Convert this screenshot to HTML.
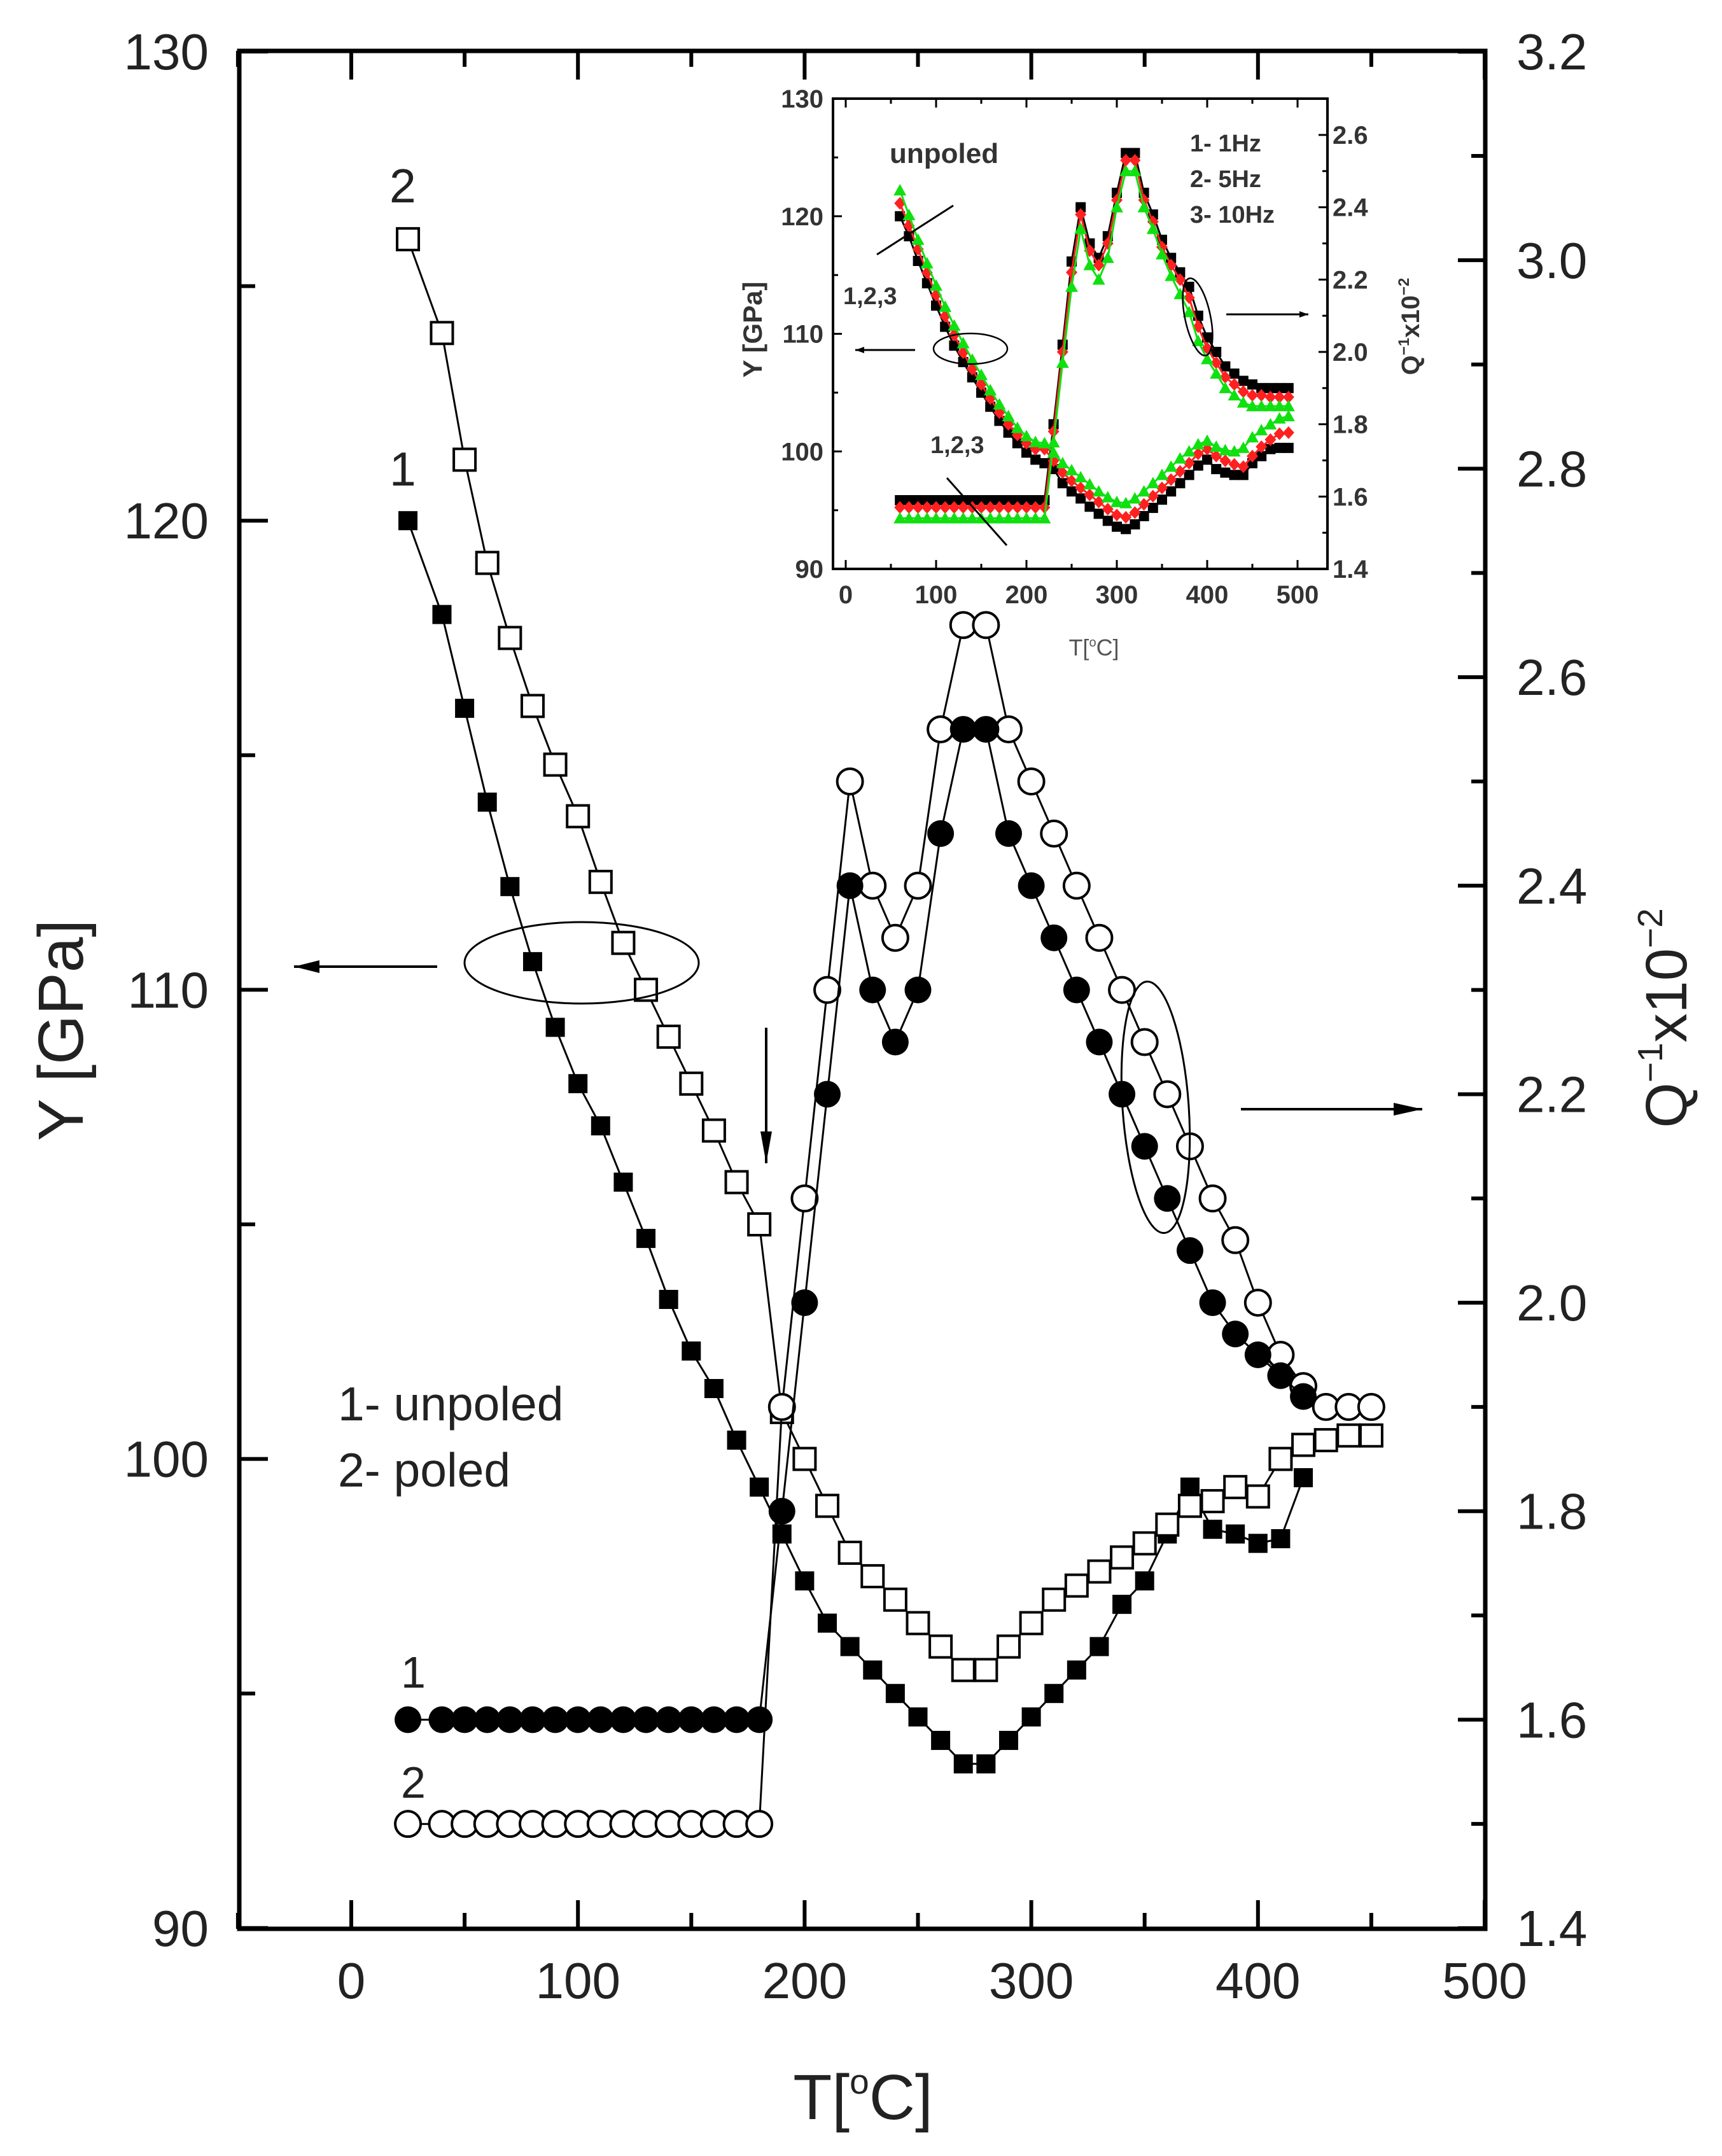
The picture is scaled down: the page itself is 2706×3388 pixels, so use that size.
<!DOCTYPE html>
<html>
<head>
<meta charset="utf-8">
<style>
html,body{margin:0;padding:0;background:#fff;}
svg{display:block;}
text{font-family:"Liberation Sans",Arial,sans-serif;}
</style>
</head>
<body>
<svg id="chart" xmlns="http://www.w3.org/2000/svg" width="2706" height="3388" viewBox="0 0 2706 3388">
<rect x="0" y="0" width="2706" height="3388" fill="#fff"/>
<g id="main"></g>
<g id="inset"></g>
</svg>
<script>
// ===== Main chart data =====
const xTickLabels = [0,100,200,300,400,500];
const yTickLabels = [90,100,110,120,130];
const qTickLabels = [1.4,1.6,1.8,2.0,2.2,2.4,2.6,2.8,3.0,3.2];

const tY1 = [25,40,50,60,70,80,90,100,110,120,130,140,150,160,170,180,190,200,210,220,230,240,250,260,270,280,290,300,310,320,330,340,350,360,370,380,390,400,410,420];
const vY1 = [120,118,116,114,112.2,110.6,109.2,108,107.1,105.9,104.7,103.4,102.3,101.5,100.4,99.4,98.4,97.4,96.5,96.0,95.5,95.0,94.5,94.0,93.5,93.5,94.0,94.5,95.0,95.5,96.0,96.9,97.4,98.4,99.4,98.5,98.4,98.2,98.3,99.6];

const tY2 = [25,40,50,60,70,80,90,100,110,120,130,140,150,160,170,180,190,200,210,220,230,240,250,260,270,280,290,300,310,320,330,340,350,360,370,380,390,400,410,420,430,440,450];
const vY2 = [126,124,121.3,119.1,117.5,116.05,114.8,113.7,112.3,111.0,110.0,109.0,108.0,107.0,105.9,105.0,101.0,100.0,99.0,98.0,97.5,97.0,96.5,96.0,95.5,95.5,96.0,96.5,97.0,97.3,97.6,97.9,98.2,98.6,99.0,99.1,99.4,99.2,100.0,100.3,100.4,100.5,100.5];

const tQ1 = [25,40,50,60,70,80,90,100,110,120,130,140,150,160,170,180,190,200,210,220,230,240,250,260,270,280,290,300,310,320,330,340,350,360,370,380,390,400,410,420];
const vQ1 = [1.6,1.6,1.6,1.6,1.6,1.6,1.6,1.6,1.6,1.6,1.6,1.6,1.6,1.6,1.6,1.6,1.80,2.0,2.2,2.4,2.3,2.25,2.3,2.45,2.55,2.55,2.45,2.4,2.35,2.3,2.25,2.2,2.15,2.1,2.05,2.0,1.97,1.95,1.93,1.91];

const tQ2 = [25,40,50,60,70,80,90,100,110,120,130,140,150,160,170,180,190,200,210,220,230,240,250,260,270,280,290,300,310,320,330,340,350,360,370,380,390,400,410,420,430,440,450];
const vQ2 = [1.5,1.5,1.5,1.5,1.5,1.5,1.5,1.5,1.5,1.5,1.5,1.5,1.5,1.5,1.5,1.5,1.90,2.1,2.3,2.5,2.4,2.35,2.4,2.55,2.65,2.65,2.55,2.5,2.45,2.4,2.35,2.3,2.25,2.2,2.15,2.1,2.06,2.0,1.95,1.92,1.9,1.9,1.9];

// ===== Inset data =====
const insetXTicks = [0,100,200,300,400,500];
const insetYTicks = [90,100,110,120,130];
const insetQTicks = [1.4,1.6,1.8,2.0,2.2,2.4,2.6];
const insT = [60,70,80,90,100,110,120,130,140,150,160,170,180,190,200,210,220,230,240,250,260,270,280,290,300,310,320,330,340,350,360,370,380,390,400,410,420,430,440,450,460,470,480,490];
const insYb = [120.0,118.3,116.2,114.3,112.4,110.6,109.0,107.6,106.3,105.0,103.8,102.6,101.6,100.7,99.9,99.3,99.0,98.5,97.3,96.6,96.0,95.3,94.7,94.1,93.6,93.4,93.8,94.5,95.2,95.9,96.6,97.3,98.0,98.8,99.3,98.5,98.2,98.0,98.0,99.0,99.6,100.2,100.3,100.3];
const insYr = [121.1,119.2,117.2,115.2,113.3,111.5,109.9,108.4,107.0,105.7,104.5,103.3,102.3,101.4,100.7,100.2,100.2,99.2,98.2,97.5,96.9,96.3,95.7,95.1,94.6,94.4,94.8,95.5,96.2,96.9,97.6,98.3,99.0,99.8,100.2,99.6,99.2,98.9,98.7,99.6,100.4,101.0,101.5,101.6];
const insYg = [122.2,120.1,118.0,116.0,114.1,112.3,110.7,109.2,107.8,106.5,105.2,104.0,103.0,102.0,101.3,100.8,100.7,99.9,99.0,98.4,97.8,97.2,96.6,96.1,95.7,95.6,96.0,96.6,97.3,98.0,98.7,99.4,100.0,100.6,100.9,100.4,100.1,100.0,100.3,101.2,101.8,102.3,102.8,103.0];
const insQb = [1.59,1.59,1.59,1.59,1.59,1.59,1.59,1.59,1.59,1.59,1.59,1.59,1.59,1.59,1.59,1.59,1.59,1.80,2.02,2.25,2.40,2.30,2.26,2.32,2.44,2.55,2.55,2.44,2.38,2.31,2.26,2.22,2.18,2.10,2.04,2.00,1.96,1.94,1.92,1.91,1.90,1.90,1.90,1.90];
const insQr = [1.57,1.57,1.57,1.57,1.57,1.57,1.57,1.57,1.57,1.57,1.57,1.57,1.57,1.57,1.57,1.57,1.57,1.78,2.00,2.22,2.38,2.28,2.24,2.30,2.42,2.53,2.53,2.42,2.36,2.29,2.24,2.20,2.15,2.07,2.01,1.97,1.93,1.91,1.89,1.88,1.88,1.875,1.875,1.875];
const insQg = [1.54,1.54,1.54,1.54,1.54,1.54,1.54,1.54,1.54,1.54,1.54,1.54,1.54,1.54,1.54,1.54,1.54,1.75,1.97,2.18,2.34,2.24,2.20,2.26,2.40,2.50,2.50,2.40,2.34,2.27,2.21,2.16,2.11,2.03,1.98,1.94,1.90,1.88,1.86,1.85,1.85,1.85,1.85,1.85];

const NS = "http://www.w3.org/2000/svg";
function mk(tag, attrs, parent){
  const e = document.createElementNS(NS, tag);
  for (const k in attrs) e.setAttribute(k, attrs[k]);
  parent.appendChild(e);
  return e;
}

// ===== Main scales =====
const L=376, R=2334, T0=80, B=3031;
function sx(t){ return 552 + t*3.562; }
function sy(v){ return 81 + (130 - v)*73.72; }
function sq(q){ return 3030 - (q - 1.4)*1638.2; }

const main = document.getElementById('main');

const frame = mk('rect',{x:L,y:T0,width:R-L,height:B-T0,fill:'none',stroke:'#000','stroke-width':7},main);



for (let t=-50; t<=500; t+=50){
  const major = (t%100===0);
  const len = major?45:25;
  const x = sx(t);
  const tb = mk('line',{x1:x,y1:B,x2:x,y2:B-len,stroke:'#000','stroke-width':6},main);
  
  
  const tt = mk('line',{x1:x,y1:T0,x2:x,y2:T0+len,stroke:'#000','stroke-width':6},main);
  
  
}
xTickLabels.forEach(function(v){
  const tx = mk('text',{x:sx(v),y:3140,'font-size':80,'text-anchor':'middle',fill:'#222'},main);
  tx.textContent = v;
  
  
});
for (let v=90; v<=130; v+=5){
  const major = (v%10===0);
  const len = major?45:25;
  const y = sy(v);
  const tl = mk('line',{x1:L,y1:y,x2:L+len,y2:y,stroke:'#000','stroke-width':6},main);
  
  
}
yTickLabels.forEach(function(v){
  const ty = mk('text',{x:328,y:sy(v)+28,'font-size':80,'text-anchor':'end',fill:'#222'},main);
  ty.textContent = v;
  
  
});
for (let k=0; k<=18; k++){
  const q = 1.4 + k*0.1;
  const major = (k%2===0);
  const len = major?43:22;
  const y = sq(q);
  const tr = mk('line',{x1:R,y1:y,x2:R-len,y2:y,stroke:'#000','stroke-width':6},main);
  
  
}
qTickLabels.forEach(function(v){
  const tq = mk('text',{x:2383,y:sq(v)+28,'font-size':80,'text-anchor':'start',fill:'#222'},main);
  tq.textContent = v.toFixed(1);
  
  
});

const xt = mk('text',{x:1356,y:3330,'font-size':100,'text-anchor':'middle',fill:'#222'},main);
xt.innerHTML = 'T[<tspan dy="-40" font-size="55">o</tspan><tspan dy="40">C]</tspan>';


const yt = mk('text',{x:0,y:0,'font-size':100,'text-anchor':'middle',fill:'#222',transform:'translate(130,1619) rotate(-90)'},main);
yt.textContent = 'Y [GPa]';


const qt = mk('text',{x:0,y:0,'font-size':92,'text-anchor':'middle',fill:'#222',transform:'translate(2650,1600) rotate(-90)'},main);
qt.innerHTML = 'Q<tspan dy="-38" font-size="55">−1</tspan><tspan dy="38">x10</tspan><tspan dy="-38" font-size="55">−2</tspan>';



function drawLine(ts, vs, scaleY, xs, parent, color, w){
  const pts = ts.map(function(t,i){ return xs(t).toFixed(1)+','+scaleY(vs[i]).toFixed(1); }).join(' ');
  return mk('polyline',{points:pts,fill:'none',stroke:color,'stroke-width':w},parent);
}

const l1 = drawLine(tY1, vY1, sy, sx, main, '#000', 3);


tY1.forEach(function(t,i){
  const m = mk('rect',{x:sx(t)-15,y:sy(vY1[i])-15,width:30,height:30,fill:'#000'},main);
  
  
});
const l2 = drawLine(tY2, vY2, sy, sx, main, '#000', 3);


tY2.forEach(function(t,i){
  const m = mk('rect',{x:sx(t)-17,y:sy(vY2[i])-17,width:34,height:34,fill:'#fff',stroke:'#000','stroke-width':4},main);
  
  
});
const l4 = drawLine(tQ2, vQ2, sq, sx, main, '#000', 3);


tQ2.forEach(function(t,i){
  const m = mk('circle',{cx:sx(t),cy:sq(vQ2[i]),r:20,fill:'#fff',stroke:'#000','stroke-width':4},main);
  
  
});
const l3 = drawLine(tQ1, vQ1, sq, sx, main, '#000', 3);


tQ1.forEach(function(t,i){
  const m = mk('circle',{cx:sx(t),cy:sq(vQ1[i]),r:21,fill:'#000'},main);
  
  
});

function arrow(x1,y1,x2,y2,parent,w,hl,hw){
  const g = mk('g',{},parent);
  mk('line',{x1:x1,y1:y1,x2:x2,y2:y2,stroke:'#000','stroke-width':w},g);
  const dx=x2-x1, dy=y2-y1, d=Math.hypot(dx,dy), ux=dx/d, uy=dy/d;
  const bx=x2-ux*hl, by=y2-uy*hl;
  mk('polygon',{points:x2+','+y2+' '+(bx-uy*hw)+','+(by+ux*hw)+' '+(bx+uy*hw)+','+(by-ux*hw),fill:'#000'},g);
  return g;
}
const e1 = mk('ellipse',{cx:914,cy:1513,rx:184,ry:64,fill:'none',stroke:'#000','stroke-width':3},main);


const a1 = arrow(687,1519,462,1519,main,4,40,10);


const e2 = mk('ellipse',{cx:1816,cy:1740,rx:52,ry:198,fill:'none',stroke:'#000','stroke-width':3,transform:'rotate(-4 1816 1740)'},main);


const a2 = arrow(1950,1743,2235,1743,main,4,45,10);


const a3 = arrow(1204,1615,1204,1828,main,4,50,9);



function label(txt,x,y,fs,name){
  const t = mk('text',{x:x,y:y,'font-size':fs,fill:'#222'},main);
  t.textContent = txt;
  
  
  return t;
}
label('2',612,318,75,'series-2-label-top');
label('1',612,763,75,'series-1-label-top');
label('1- unpoled',531,2232,75,'legend-entry-unpoled');
label('2- poled',531,2336,75,'legend-entry-poled');
label('1',630,2652,70,'series-1-label-bottom');
label('2',630,2825,70,'series-2-label-bottom');

// ===== Inset =====
const inset = document.getElementById('inset');
const IL=1309, IR=2086, IT=155, IB=894;
function ix(t){ return 1329 + t*1.42; }
function iy(v){ return IT + (130 - v)*18.48; }
function iq(q){ return IB - (q - 1.4)*568.3; }

const ibg = mk('rect',{x:IL,y:IT,width:IR-IL,height:IB-IT,fill:'#fff',stroke:'#000','stroke-width':4},inset);


for (let t=0; t<=500; t+=50){
  const len = (t%100===0)?14:8;
  const tk = mk('line',{x1:ix(t),y1:IB,x2:ix(t),y2:IB-len,stroke:'#000','stroke-width':3},inset);
  
  
  const tk2 = mk('line',{x1:ix(t),y1:IT,x2:ix(t),y2:IT+len,stroke:'#000','stroke-width':3},inset);
  
  
}
insetXTicks.forEach(function(v){
  const t = mk('text',{x:ix(v),y:948,'font-size':40,'font-weight':'bold','text-anchor':'middle',fill:'#333'},inset);
  t.textContent = v;
  
  
});
for (let v=90; v<=130; v+=5){
  const len = (v%10===0)?14:8;
  const tk = mk('line',{x1:IL,y1:iy(v),x2:IL+len,y2:iy(v),stroke:'#000','stroke-width':3},inset);
  
  
}
insetYTicks.forEach(function(v){
  const t = mk('text',{x:1294,y:iy(v)+14,'font-size':40,'font-weight':'bold','text-anchor':'end',fill:'#333'},inset);
  t.textContent = v;
  
  
});
for (let k=0; k<=12; k++){
  const q = 1.4 + k*0.1;
  const len = (k%2===0)?14:8;
  const tk = mk('line',{x1:IR,y1:iq(q),x2:IR-len,y2:iq(q),stroke:'#000','stroke-width':3},inset);
  
  
}
insetQTicks.forEach(function(v){
  const t = mk('text',{x:2094,y:iq(v)+14,'font-size':40,'font-weight':'bold','text-anchor':'start',fill:'#333'},inset);
  t.textContent = v.toFixed(1);
  
  
});
const ixt = mk('text',{x:1719,y:1030,'font-size':36,'text-anchor':'middle',fill:'#555'},inset);
ixt.innerHTML = 'T[<tspan dy="-14" font-size="20">o</tspan><tspan dy="14">C]</tspan>';


const iyt = mk('text',{x:0,y:0,'font-size':42,'font-weight':'bold','text-anchor':'middle',fill:'#333',transform:'translate(1197,518) rotate(-90)'},inset);
iyt.textContent = 'Y [GPa]';


const iqt = mk('text',{x:0,y:0,'font-size':40,'font-weight':'bold','text-anchor':'middle',fill:'#333',transform:'translate(2230,513) rotate(-90)'},inset);
iqt.innerHTML = 'Q<tspan dy="-16" font-size="24">−1</tspan><tspan dy="16">x10</tspan><tspan dy="-16" font-size="24">−2</tspan>';



function insetSeries(vs, scaleY, color, shape, name){
  const ln = drawLine(insT, vs, scaleY, ix, inset, color, 3);
  
  
  insT.forEach(function(t,i){
    const x = ix(t), y = scaleY(vs[i]);
    let m;
    if (shape==='sq') m = mk('rect',{x:x-8,y:y-8,width:16,height:16,fill:color},inset);
    else if (shape==='di') m = mk('polygon',{points:x+','+(y-10)+' '+(x+9)+','+y+' '+x+','+(y+10)+' '+(x-9)+','+y,fill:color},inset);
    else m = mk('polygon',{points:x+','+(y-10)+' '+(x+10)+','+(y+8)+' '+(x-10)+','+(y+8),fill:color},inset);
    
    
  });
}
insetSeries(insYb, iy, '#000', 'sq', 'inset-modulus-1hz');
insetSeries(insQb, iq, '#000', 'sq', 'inset-damping-1hz');
insetSeries(insYr, iy, '#ff2020', 'di', 'inset-modulus-5hz');
insetSeries(insQr, iq, '#ff2020', 'di', 'inset-damping-5hz');
insetSeries(insYg, iy, '#10e010', 'tr', 'inset-modulus-10hz');
insetSeries(insQg, iq, '#10e010', 'tr', 'inset-damping-10hz');

function ilabel(txt,x,y,fs,name,bold){
  const t = mk('text',{x:x,y:y,'font-size':fs,'font-weight':bold?'bold':'normal',fill:'#333'},inset);
  t.textContent = txt;
  
  
}
ilabel('unpoled',1398,256,44,'inset-unpoled-label',true);
ilabel('1- 1Hz',1870,238,38,'inset-legend-1hz',true);
ilabel('2- 5Hz',1870,294,38,'inset-legend-5hz',true);
ilabel('3- 10Hz',1870,350,38,'inset-legend-10hz',true);
ilabel('1,2,3',1325,478,38,'inset-label-123-top',true);
ilabel('1,2,3',1462,712,38,'inset-label-123-bottom',true);

const il1 = mk('line',{x1:1378,y1:400,x2:1498,y2:323,stroke:'#000','stroke-width':3},inset);


const il2 = mk('line',{x1:1488,y1:751,x2:1582,y2:857,stroke:'#000','stroke-width':3},inset);


const ie1 = mk('ellipse',{cx:1525,cy:548,rx:58,ry:24,fill:'none',stroke:'#000','stroke-width':2.5},inset);


const ia1 = arrow(1438,550,1344,550,inset,3,14,5);


const ie2 = mk('ellipse',{cx:1882,cy:498,rx:20,ry:62,fill:'none',stroke:'#000','stroke-width':2.5,transform:'rotate(-12 1882 498)'},inset);


const ia2 = arrow(1927,494,2056,494,inset,3,14,5);


</script>
</body>
</html>
